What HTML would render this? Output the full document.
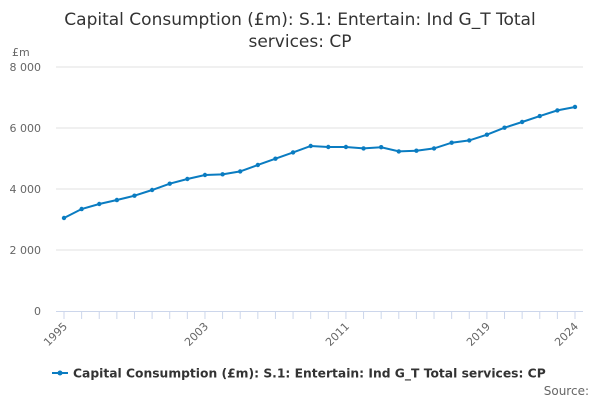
<!DOCTYPE html>
<html><head><meta charset="utf-8"><style>
body{margin:0;background:#fff;font-family:"Liberation Sans","DejaVu Sans",sans-serif}
svg text{font-family:"DejaVu Sans","Liberation Sans",sans-serif}
</style></head><body>
<svg id="chart" width="600" height="400" xmlns="http://www.w3.org/2000/svg">
<text x="300" y="25" text-anchor="middle" font-size="17" fill="#333">Capital Consumption (£m): S.1: Entertain: Ind G_T Total</text>
<text x="300" y="47" text-anchor="middle" font-size="17" fill="#333">services: CP</text>
<text x="12" y="56" font-size="11" fill="#666">£m</text>
<g id="grid"></g><g id="xaxis"></g><g id="series"></g>
<g>
<line x1="52" y1="373" x2="68" y2="373" stroke="#0a7cc1" stroke-width="2"/>
<circle cx="60" cy="373" r="2.5" fill="#0a7cc1"/>
<text x="73" y="377.5" font-size="12.3" font-weight="bold" fill="#333">Capital Consumption (£m): S.1: Entertain: Ind G_T Total services: CP</text>
</g>
<text x="589" y="395" text-anchor="end" font-size="12" fill="#666">Source:</text>
</svg>
<script>
const years=[1995,1996,1997,1998,1999,2000,2001,2002,2003,2004,2005,2006,2007,2008,2009,2010,2011,2012,2013,2014,2015,2016,2017,2018,2019,2020,2021,2022,2023,2024];
const values=[3049,3344,3508,3639,3780,3967,4174,4328,4459,4480,4577,4787,4993,5200,5410,5377,5377,5331,5370,5233,5255,5331,5518,5593,5780,6010,6197,6393,6577,6689];
const yTicks=[0,2000,4000,6000,8000];
const yTickLabels=["0","2 000","4 000","6 000","8 000"];
const xTickLabels=[1995,2003,2011,2019,2024];
const NS="http://www.w3.org/2000/svg";
const x0=64,x1=575,yb=311,yt=67;
const xs=v=>x0+(v-1995)/(2024-1995)*(x1-x0);
const ys=v=>yb-(v/8000)*(yb-yt);
function mk(t,a,p){const e=document.createElementNS(NS,t);for(const k in a)e.setAttribute(k,a[k]);p.appendChild(e);return e;}
const grid=document.getElementById('grid');
yTicks.forEach((t,i)=>{
 if(t>0){const l=mk('line',{x1:56,x2:583,y1:ys(t),y2:ys(t),stroke:'#e0e0e0','stroke-width':1},grid);
 
 }
 const tx=mk('text',{x:41,y:ys(t)+4,'text-anchor':'end','font-size':11,fill:'#666'},grid);
 tx.textContent=yTickLabels[i];
 
 
});
const xa=document.getElementById('xaxis');
const ax=mk('line',{x1:56,x2:583,y1:yb+0.5,y2:yb+0.5,stroke:'#ccd6eb'},xa);


years.forEach(y=>{const t=mk('line',{x1:xs(y),x2:xs(y),y1:yb,y2:yb+8,stroke:'#ccd6eb'},xa);
 
 });
xTickLabels.forEach(y=>{const t=mk('text',{x:xs(y)+4,y:yb+16,'text-anchor':'end','font-size':11,fill:'#666',transform:`rotate(-45 ${xs(y)+4} ${yb+16})`},xa);
 t.textContent=y;
 
 });
const s=document.getElementById('series');
const p=mk('polyline',{points:years.map((y,i)=>xs(y)+','+ys(values[i])).join(' '),fill:'none',stroke:'#0a7cc1','stroke-width':2},s);


years.forEach((y,i)=>{const c=mk('circle',{cx:xs(y),cy:ys(values[i]),r:2.2,fill:'#0a7cc1'},s);
 
 });
</script>
</body></html>
